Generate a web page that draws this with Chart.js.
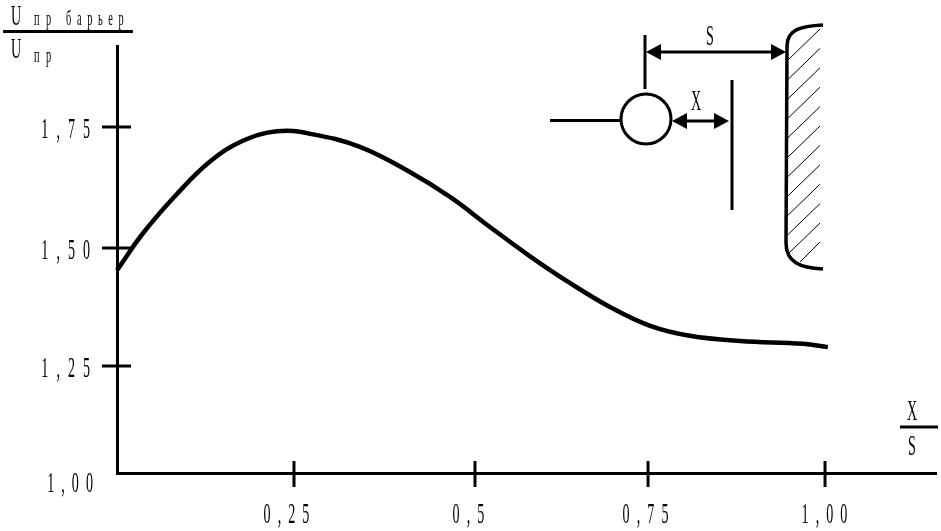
<!DOCTYPE html>
<html>
<head>
<meta charset="utf-8">
<style>
  html, body { margin: 0; padding: 0; background: #fff; }
  canvas { display: block; }
</style>
<script src="https://cdn.jsdelivr.net/npm/chart.js@4/dist/chart.umd.min.js"></script>
</head>
<body>
<canvas id="myChart" width="941" height="531"></canvas>
<script>
// ratio X/S and U barrier / U
var xValues = [0, 0.037, 0.085, 0.131, 0.177, 0.226, 0.272, 0.341, 0.410, 0.466,
    0.522, 0.579, 0.637, 0.695, 0.753, 0.809, 0.880, 0.969, 1.004];
var yValues = [1.453, 1.531, 1.612, 1.678, 1.721, 1.741, 1.736, 1.709, 1.657, 1.605,
    1.543, 1.483, 1.426, 1.375, 1.335, 1.314, 1.303, 1.297, 1.290];

var xTicks = [0.25, 0.5, 0.75, 1];
var xTickLabels = ['0,25', '0,5', '0,75', '1,00'];
var yTicks = [1, 1.25, 1.5, 1.75];
var yTickLabels = ['1,00', '1,25', '1,50', '1,75'];

// the printed axes are not evenly spaced, so the scale goes through these stops
var xStops = [[0, 0], [0.25, 0.2161], [0.5, 0.4371], [0.75, 0.6484], [1, 0.8645], [1.157, 1]];
var yStops = [[1, 0], [1.25, 0.2506], [1.5, 0.5269], [1.75, 0.8103], [1.917, 1]];

// labels under the x axis don't sit centred on their ticks in the original
var xLabelNudge = [-4, -3, 1, 3];

class StopScale extends Chart.LinearScale {
    getPixelForValue(value) {
        var stops = this.options.stops;
        for (var i = 1; i < stops.length; i++) {
            if (value <= stops[i][0] || i === stops.length - 1) {
                var a = stops[i - 1], b = stops[i];
                return this.getPixelForDecimal(a[1] + (value - a[0]) / (b[0] - a[0]) * (b[1] - a[1]));
            }
        }
    }
}
StopScale.id = 'stops';
StopScale.defaults = Chart.LinearScale.defaults;
Chart.register(StopScale);

// tall narrow typewriter look, chart.js fonts can't be squeezed
function narrowText(ctx, text, x, y, size, align, spacing) {
    ctx.save();
    ctx.translate(x, y);
    ctx.scale(0.47, 1);
    ctx.font = size + 'px "Liberation Serif"';
    ctx.letterSpacing = (spacing || 0) + 'px';
    ctx.textAlign = align || 'left';
    ctx.textBaseline = 'alphabetic';
    ctx.fillStyle = '#000';
    ctx.fillText(text, 0, 0);
    ctx.restore();
}

function line(ctx, x1, y1, x2, y2, width) {
    ctx.lineWidth = width;
    ctx.beginPath();
    ctx.moveTo(x1, y1);
    ctx.lineTo(x2, y2);
    ctx.stroke();
}

function arrowHead(ctx, tip, y, dir) {
    ctx.beginPath();
    ctx.moveTo(tip, y);
    ctx.lineTo(tip + dir * 15, y - 8);
    ctx.lineTo(tip + dir * 15, y + 8);
    ctx.closePath();
    ctx.fill();
}

var tickMarks = {
    id: 'tickMarks',
    afterDraw: function (chart) {
        var ctx = chart.ctx;
        var xs = chart.scales.x, ys = chart.scales.y;
        ctx.save();
        ctx.strokeStyle = '#000';

        xs.ticks.forEach(function (t, i) {
            var px = xs.getPixelForTick(i);
            line(ctx, px, 461, px, 487, 3);
            narrowText(ctx, t.label, px + xLabelNudge[i], 523, 30, 'center', 15);
        });
        ys.ticks.forEach(function (t, i) {
            var py = ys.getPixelForTick(i);
            if (t.value > 1) {
                line(ctx, 102, py, 131, py, 3);
                narrowText(ctx, t.label, 98, py + 11, 30, 'right', 17);
            } else {
                narrowText(ctx, t.label, 100, py + 19, 30, 'right', 15);
            }
        });
        ctx.restore();
    }
};

// axis names and the little electrode sketch
var sketch = {
    id: 'sketch',
    afterDraw: function (chart) {
        var ctx = chart.ctx;
        ctx.save();
        ctx.strokeStyle = '#000';
        ctx.fillStyle = '#000';
        ctx.lineCap = 'butt';

        line(ctx, 3, 31.5, 133, 31.5, 3);
        narrowText(ctx, 'U', 11, 25, 30);
        narrowText(ctx, 'пр', 34, 25, 22, 'left', 14);
        narrowText(ctx, 'барьер', 66, 25, 22, 'left', 12);
        narrowText(ctx, 'U', 11, 58, 30);
        narrowText(ctx, 'пр', 34, 62, 22, 'left', 14);

        line(ctx, 900, 427, 938, 427, 3);
        narrowText(ctx, 'X', 912, 420, 30, 'center');
        narrowText(ctx, 'S', 912, 455, 30, 'center');

        line(ctx, 645, 35, 645, 89, 3);
        line(ctx, 655, 52, 775, 52, 3);
        arrowHead(ctx, 646, 52, 1);
        arrowHead(ctx, 786, 52, -1);
        narrowText(ctx, 'S', 710, 45, 30, 'center');

        line(ctx, 550, 120.5, 620, 120.5, 3);
        ctx.lineWidth = 3;
        ctx.beginPath();
        ctx.arc(646, 119, 25, 0, Math.PI * 2);
        ctx.stroke();

        line(ctx, 682, 121, 718, 121, 3);
        arrowHead(ctx, 672, 121, 1);
        arrowHead(ctx, 729, 121, -1);
        narrowText(ctx, 'X', 696, 110, 30, 'center');
        line(ctx, 732, 80, 732, 210, 3);

        // hatching behind the wall
        for (var k = 0; k < 11; k++) {
            var top = 29 + 19.4 * k;
            line(ctx, 788, top + 31, 820, top, 1);
        }
        line(ctx, 800, 262, 820, 242, 1);

        ctx.lineWidth = 3.5;
        ctx.beginPath();
        ctx.moveTo(823, 25);
        ctx.bezierCurveTo(800, 26, 787, 30, 787, 46);
        ctx.lineTo(786, 243);
        ctx.bezierCurveTo(786, 262, 800, 268, 823, 269);
        ctx.stroke();
        ctx.restore();
    }
};

var ctx = document.getElementById('myChart').getContext('2d');

var chart = new Chart(ctx, {
    type: 'line',
    data: {
        datasets: [{
            data: xValues.map(function (x, i) { return { x: x, y: yValues[i] }; }),
            borderColor: '#000',
            borderWidth: 4.5,
            pointRadius: 0,
            tension: 0.4,
            fill: false,
            clip: false
        }]
    },
    options: {
        responsive: false,
        animation: false,
        layout: { padding: { top: 46, right: 5, left: 0, bottom: 0 } },
        plugins: { legend: { display: false }, tooltip: { enabled: false } },
        scales: {
            x: {
                type: 'stops',
                stops: xStops,
                min: 0,
                max: 1.157,
                grid: { display: false },
                border: { color: '#000', width: 3 },
                ticks: {
                    display: false,
                    autoSkip: false,
                    callback: function (v) { return xTickLabels[xTicks.indexOf(v)]; }
                },
                afterBuildTicks: function (scale) {
                    scale.ticks = xTicks.map(function (v) { return { value: v }; });
                },
                afterFit: function (scale) { scale.height = 58; }
            },
            y: {
                type: 'stops',
                stops: yStops,
                min: 1,
                max: 1.917,
                grid: { display: false },
                border: { color: '#000', width: 3 },
                ticks: {
                    display: false,
                    autoSkip: false,
                    callback: function (v) { return yTickLabels[yTicks.indexOf(v)]; }
                },
                afterBuildTicks: function (scale) {
                    scale.ticks = yTicks.map(function (v) { return { value: v }; });
                },
                afterFit: function (scale) { scale.width = 117; }
            }
        }
    },
    plugins: [tickMarks, sketch]
});
</script>
</body>
</html>
